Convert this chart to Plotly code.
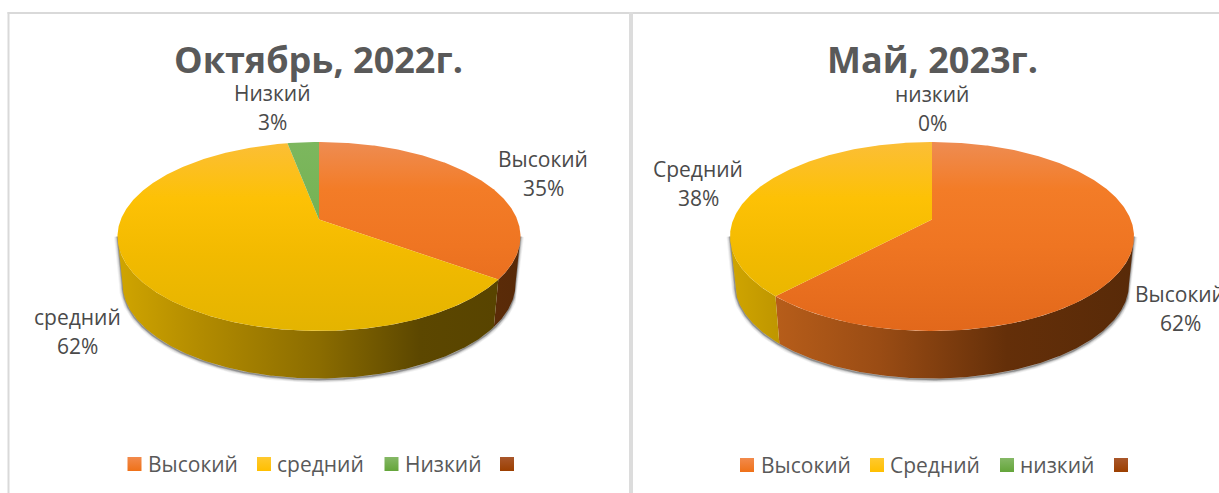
import numpy as np
import plotly.graph_objects as go

# Data
titles = ["Октябрь, 2022г.", "Май, 2023г."]
left_labels = ["Высокий", "средний", "Низкий", ""]
left_values = [35, 62, 3, 0]
right_labels = ["Высокий", "Средний", "низкий", ""]
right_values = [62, 38, 0, 0]

TEXT = "#595959"
LABEL = "#4a4a4a"
FONT = "Open Sans"

TOP_SCALES = {
    "o": [[0, "#EE8C52"], [0.25, "#F37C27"], [0.55, "#EF7522"], [1, "#E2681B"]],
    "y": [[0, "#FBBE37"], [0.3, "#FDC105"], [0.6, "#F2BA00"], [1, "#E4B400"]],
    "g": [[0, "#7CB75E"], [1, "#6CAB44"]],
}
WALL_SCALES = {
    "o": [[0, "#B85E1A"], [0.3, "#9A4C14"], [0.65, "#642F09"], [1, "#582A08"]],
    "y": [[0, "#D0A500"], [0.2, "#B38C00"], [0.5, "#8B6C00"], [0.75, "#5C4700"], [1, "#574300"]],
    "g": [[0, "#5F8F3D"], [1, "#3D5E27"]],
}
COLOR_KEYS = ["o", "y", "g"]
LEG_TOP = ["#F28A4C", "#FFC92F", "#85B866", "#A9572B"]
LEG_BOT = ["#EF7118", "#FFBF00", "#64A53A", "#9C3F00"]

Y_TOP, Y_APEX, Y_BOT = 142.0, 219.5, 331.0
c = (2 * Y_APEX - Y_TOP - Y_BOT) / (Y_TOP - Y_BOT)
a = Y_TOP * (1 + c) - Y_APEX
RW = np.sqrt(1 - c * c)
DEPTH = 47.5
# rim angle at which the ellipse is widest (silhouette of the side wall)
T_EDGE = np.degrees(np.arccos(-c))


def rim(cx, r, deg, scale=1.0, dy=0.0):
    t = np.radians(deg)
    u, v = np.sin(t), np.cos(t)
    w = 1 + c * v
    return cx + scale * r * RW * u / w, (a * v + Y_APEX) / w + dy


def arc(d0, d1):
    n = max(2, int(abs(d1 - d0)) * 2 + 1)
    return np.linspace(d0, d1, n)


fig = go.Figure()


def draw_pie(values, cx, r):
    ends = np.cumsum(values) * 360.0 / sum(values)
    starts = np.concatenate([[0], ends[:-1]])
    lo, hi = T_EDGE, 360 - T_EDGE
    # soft shadow
    bx, by = rim(cx, r, arc(lo, hi), 0.975, DEPTH)
    tx0, ty0 = rim(cx, r, np.array([lo]))
    tx1, ty1 = rim(cx, r, np.array([hi]))
    sx = np.r_[tx0, bx, tx1]
    sy = np.r_[ty0, by + 1, ty1]
    for wid, al in [(7, 0.05), (5, 0.08), (3, 0.14), (1.5, 0.25)]:
        fig.add_trace(go.Scatter(x=sx, y=sy, mode="lines",
                                 line=dict(color=f"rgba(0,0,0,{al})", width=wid),
                                 hoverinfo="skip"))
    # side walls
    for s, e, key in zip(starts, ends, COLOR_KEYS):
        d0, d1 = max(s, lo), min(e, hi)
        if d1 <= d0:
            continue
        d = arc(d0, d1)
        x1, y1 = rim(cx, r, d)
        x2, y2 = rim(cx, r, d[::-1], 0.975, DEPTH)
        fig.add_trace(go.Scatter(
            x=np.r_[x1, x2], y=np.r_[y1, y2], mode="lines", fill="toself",
            line=dict(width=0), hoverinfo="skip", fillcolor="rgba(0,0,0,0)",
            fillgradient=dict(type="horizontal", colorscale=WALL_SCALES[key],
                              start=cx - r if key != "o" or s > 0 else cx - r * 0.8,
                              stop=cx + r)))
    # top surface
    for s, e, key, val in zip(starts, ends, COLOR_KEYS, values):
        if val == 0:
            continue
        x, y = rim(cx, r, arc(s, e))
        fig.add_trace(go.Scatter(
            x=np.r_[cx, x, cx], y=np.r_[Y_APEX, y, Y_APEX], mode="lines", fill="toself",
            line=dict(width=0), hoverinfo="skip", fillcolor="rgba(0,0,0,0)",
            fillgradient=dict(type="vertical", colorscale=TOP_SCALES[key],
                              start=Y_TOP, stop=Y_BOT)))


annotations = []


def ann(x, y, text, size, color, anchor="center", bold=False):
    annotations.append(dict(
        x=x, y=y, xref="x", yref="y", text=f"<b>{text}</b>" if bold else text,
        showarrow=False, xanchor=anchor, yanchor="middle",
        font=dict(family=FONT, size=size, color=color)))


def legend(labels, sq_x, txt_x, y):
    for i, lab in enumerate(labels):
        fig.add_trace(go.Scatter(
            x=[sq_x[i]], y=[y], mode="markers", hoverinfo="skip",
            marker=dict(symbol="square", size=14, color=LEG_TOP[i], line=dict(width=0),
                        gradient=dict(type="vertical", color=LEG_BOT[i]))))
        if lab:
            ann(txt_x[i], y, lab, 21, TEXT, "left")


def label(x, y, name, value):
    ann(x, y, name, 21, LABEL)
    ann(x, y + 29, f"{value}%", 21, LABEL)


draw_pie(np.array(left_values, float), 319, 201.5)
draw_pie(np.array(right_values, float), 932, 202)

ann(318, 59, titles[0], 36, TEXT, bold=True)
ann(932, 59, titles[1], 36, TEXT, bold=True)

label(543, 159, left_labels[0], left_values[0])
label(77, 317, left_labels[1], left_values[1])
label(272, 93, left_labels[2], left_values[2])
label(1180, 294, right_labels[0], right_values[0])
label(698, 169, right_labels[1], right_values[1])
label(932, 94, right_labels[2], right_values[2])

legend(left_labels, [134.5, 264, 391.5, 507], [146, 275, 403, 0], 464)
legend(right_labels, [747, 877, 1007, 1121], [759, 888, 1018, 0], 465)

shapes = [
    dict(type="rect", x0=7.5, x1=9.5, y0=12, y1=493, fillcolor="#D9D9D9", line_width=0),
    dict(type="rect", x0=7.5, x1=1219, y0=12, y1=14, fillcolor="#D9D9D9", line_width=0),
    dict(type="rect", x0=629, x1=633, y0=12, y1=493, fillcolor="#DCDCDC", line_width=0),
]

fig.update_layout(
    width=1219, height=493, margin=dict(l=0, r=0, t=0, b=0),
    paper_bgcolor="white", plot_bgcolor="white", showlegend=False,
    xaxis=dict(range=[0, 1219], visible=False, fixedrange=True),
    yaxis=dict(range=[493, 0], visible=False, fixedrange=True),
    annotations=annotations, shapes=shapes,
)
fig.write_html("out.html", config={"displayModeBar": False},
               post_script="document.body.style.margin='0';document.body.style.overflow='hidden';")
